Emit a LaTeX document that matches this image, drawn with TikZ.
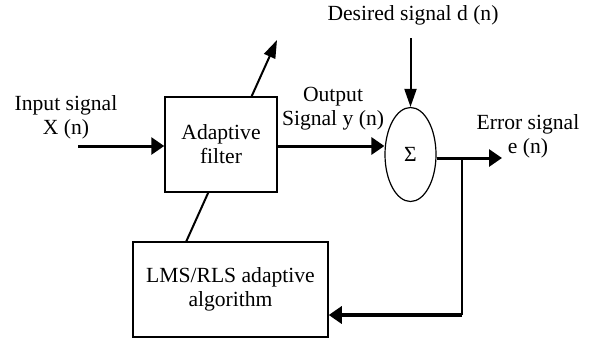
\documentclass[tikz,border=0pt]{standalone}
\usepackage{fontspec}
\setmainfont{Liberation Serif}
\usepackage{tikz}
\usetikzlibrary{positioning}
\usetikzlibrary{shapes.geometric}
\usetikzlibrary{arrows.meta}
\usetikzlibrary{backgrounds}
\tikzset{block/.style={draw,line width=0.75pt,fill=white,align=center,inner sep=0pt}}
\tikzset{sig/.style={line width=1.5pt,-{Triangle[length=6.5pt,width=8.5pt]}}}
\tikzset{thinsig/.style={line width=1pt,-{Triangle[length=9pt,width=6pt]}}}
\tikzset{lbl/.style={align=center,inner sep=0pt}}

\begin{document}
\begin{tikzpicture}[x=0.5pt,y=-0.5pt,font=\fontsize{10.8}{12}\selectfont]
\useasboundingbox (0,0) rectangle (589,339);
% blocks
\node[block,minimum width=56pt,minimum height=47.5pt] (filter) at (221,144.5) {Adaptive\\filter};
\node[block,minimum width=97.5pt,minimum height=47.5pt] (lms) at (230.5,289.5) {LMS/RLS adaptive\\algorithm};
\node[draw,ellipse,line width=0.6pt,fill=white,inner sep=0pt,minimum width=25.5pt,minimum height=47pt] (sum) at (410.5,154.5) {\raisebox{-4pt}{Σ}};
% labels
\node[lbl] (inlabel) at (66,117) {Input signal\\X (n)};
\node[lbl] (outlabel) at (333,109) {Output\\Signal y (n)};
\node[lbl] (dlabel) at (413,15) {Desired signal d (n)};
\node[lbl] (elabel) at (528,136) {Error signal\\e (n)};
% free ends
\coordinate (xin) at (78,146);
\coordinate (dstart) at (410.5,38);
\coordinate (eout) at (502,158);
\coordinate (branch) at (462,158);
\coordinate (corner) at (462,315);
\coordinate (foot) at (186,242);
\coordinate (adjtip) at (277,40);
% connectors
\draw[sig] (xin) -- (xin -| filter.west);
\draw[sig] (filter.east |- xin) -- (xin -| sum.west);
\draw[thinsig] (dstart) -- (sum.north);
\draw[sig] (eout -| sum.east) -- (eout);
\draw[line width=0.6pt] (branch) -- (corner);
\draw[sig,line width=1.8pt] (corner) -- (corner -| lms.east);
\begin{scope}[on background layer]
\draw[thinsig] (foot) -- (adjtip);
\end{scope}
\end{tikzpicture}
\end{document}
